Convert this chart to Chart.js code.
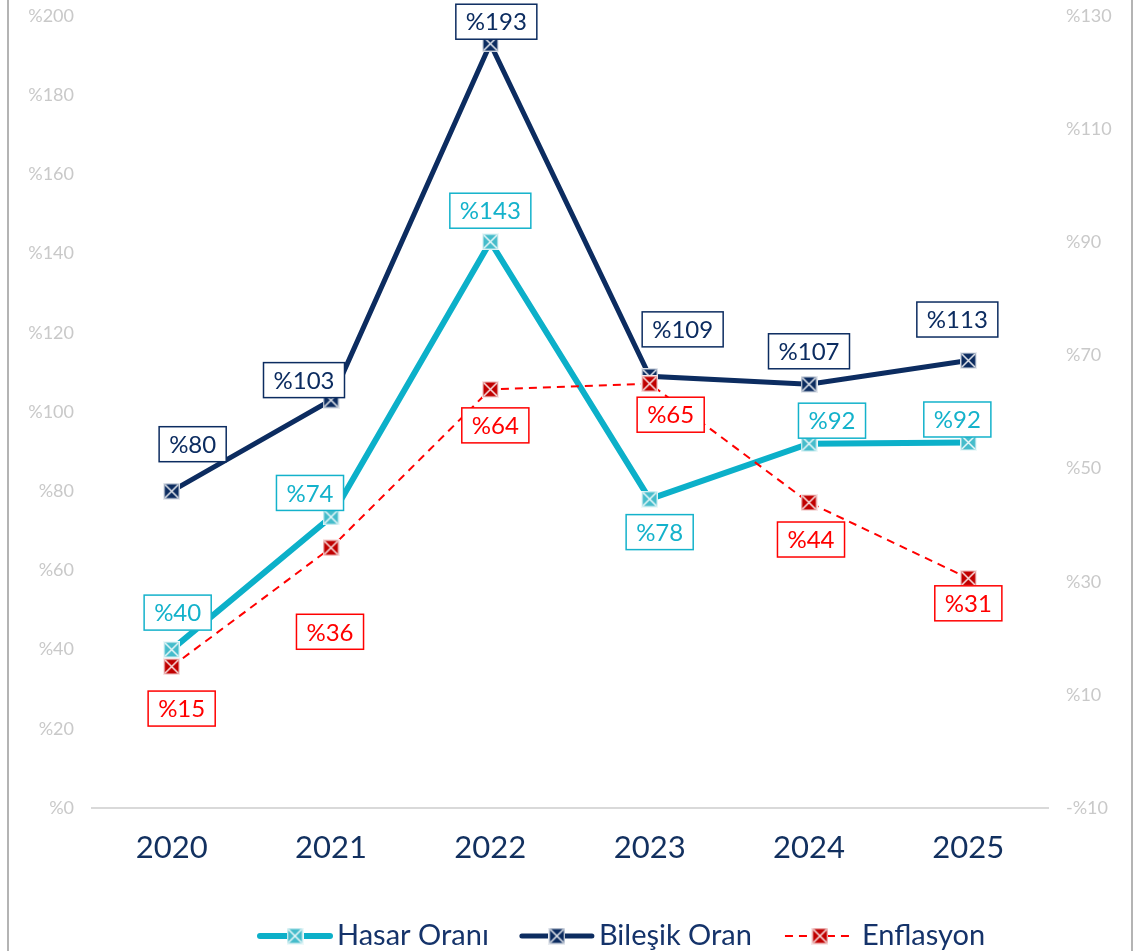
<!DOCTYPE html>
<html>
<head>
<meta charset="utf-8">
<script src="https://cdn.jsdelivr.net/npm/chart.js@4"></script>
<style>
    html, body { margin: 0; padding: 0; background: #fff; }
    #wrap { position: relative; width: 1140px; height: 951px; }
    #frame {
        position: absolute; left: 7px; top: 0; width: 1122px; height: 951px;
        border-left: 2px solid #b4b4b4; border-right: 2px solid #b4b4b4;
        pointer-events: none;
    }
</style>
</head>
<body>
<div id="wrap">
    <canvas id="chart" width="1140" height="951"></canvas>
    <div id="frame"></div>
</div>
<script>
// Chart data
const years = ['2020', '2021', '2022', '2023', '2024', '2025'];
const hasarOrani = [40, 73.5, 143, 78, 92, 92.3];
const bilesikOran = [80, 103, 193, 109, 107, 113];
const enflasyon = [15, 36, 64, 65, 44, 30.6];
const leftTicks = [0, 200, 20];   // min, max, step
const rightTicks = [-10, 130, 20];

// Colours
const cyan = '#0cb0c9';
const navy = '#0c2c60';
const red = '#ff0000';

// Square marker with a white X, like the Excel original
function makeMarker(fill, size) {
    const c = document.createElement('canvas');
    c.width = size;
    c.height = size;
    const ctx = c.getContext('2d');
    ctx.fillStyle = fill;
    ctx.fillRect(0, 0, size, size);
    ctx.strokeStyle = 'rgba(255,255,255,0.9)';
    ctx.lineWidth = 1.5;
    ctx.strokeRect(0.75, 0.75, size - 1.5, size - 1.5);
    ctx.beginPath();
    ctx.moveTo(2, 2); ctx.lineTo(size - 2, size - 2);
    ctx.moveTo(size - 2, 2); ctx.lineTo(2, size - 2);
    ctx.stroke();
    return c;
}

// Per-point label offsets (label centre relative to the point)
const labelOffsets = {
    hasar: [[6, -37], [-21, -24], [0, -31], [10, 33], [23, -23], [-11, -23]],
    bilesik: [[21, -47], [-27, -20], [6, -22], [33, -47], [0, -33], [-11, -41]],
    enflasyon: [[10, 42], [-1, 84], [5, 36], [21, 31], [2, 37], [0, 25]]
};

const boxLabels = {
    id: 'boxLabels',
    afterDatasetsDraw(chart) {
        const ctx = chart.ctx;
        ctx.save();
        ctx.font = '24px Lato';
        ctx.textAlign = 'center';
        ctx.textBaseline = 'middle';
        chart.data.datasets.forEach((ds, i) => {
            const meta = chart.getDatasetMeta(i);
            meta.data.forEach((pt, j) => {
                const [dx, dy] = ds.labelOffsets[j];
                const text = '%' + Math.round(ds.data[j]);
                const w = ctx.measureText(text).width + 20;
                const h = 35;
                const cx = pt.x + dx, cy = pt.y + dy;
                ctx.fillStyle = '#fff';
                ctx.fillRect(cx - w / 2, cy - h / 2, w, h);
                ctx.strokeStyle = ds.labelColor;
                ctx.lineWidth = 1.5;
                ctx.strokeRect(cx - w / 2, cy - h / 2, w, h);
                ctx.fillStyle = ds.labelColor;
                ctx.fillText(text, cx, cy + 1);
            });
        });
        ctx.restore();
    }
};

// Legend with line sample + marker, drawn at the bottom
const lineLegend = {
    id: 'lineLegend',
    afterDraw(chart) {
        const ctx = chart.ctx;
        ctx.save();
        ctx.font = '29px Lato';
        ctx.textBaseline = 'middle';
        let x = 260;
        const y = 936;
        chart.data.datasets.forEach(ds => {
            ctx.strokeStyle = ds.borderColor;
            ctx.lineWidth = ds.borderWidth;
            ctx.setLineDash(ds.borderDash || []);
            ctx.lineCap = ds.borderDash ? 'butt' : 'round';
            ctx.beginPath();
            ctx.moveTo(x, y);
            ctx.lineTo(x + 70, y);
            ctx.stroke();
            ctx.setLineDash([]);
            const m = ds.pointStyle;
            ctx.drawImage(m, x + 35 - m.width / 2, y - m.height / 2);
            ctx.fillStyle = '#15336a';
            ctx.fillText(ds.label, x + 77, y);
            x += 77 + ctx.measureText(ds.label).width + 33;
        });
        ctx.restore();
    }
};

// Let the plot area reach the top tick label's centre
function noVerticalPadding(scale) {
    scale.width = 92;
    scale.paddingTop = 0;
    scale.paddingBottom = 0;
}

// Turkish style percent: %20, -%10
const pct = v => (v < 0 ? '-%' + (-v) : '%' + v);

Chart.defaults.font.family = 'Lato';

new Chart(document.getElementById('chart'), {
    type: 'line',
    data: {
        labels: years,
        datasets: [
            {
                label: 'Hasar Oranı',
                data: hasarOrani,
                yAxisID: 'y',
                borderColor: cyan,
                borderWidth: 6,
                pointStyle: makeMarker('#45bccb', 17),
                labelColor: '#14b2cb',
                labelOffsets: labelOffsets.hasar,
                order: 2
            },
            {
                label: 'Bileşik Oran',
                data: bilesikOran,
                yAxisID: 'y',
                borderColor: navy,
                borderWidth: 5,
                pointStyle: makeMarker(navy, 17),
                labelColor: navy,
                labelOffsets: labelOffsets.bilesik,
                order: 1
            },
            {
                label: 'Enflasyon',
                data: enflasyon,
                yAxisID: 'y2',
                borderColor: red,
                borderWidth: 2,
                borderDash: [8, 6],
                pointStyle: makeMarker('#c00000', 17),
                labelColor: red,
                labelOffsets: labelOffsets.enflasyon,
                order: 0
            }
        ]
    },
    options: {
        responsive: false,
        animation: false,
        layout: { padding: { top: 16, left: 0, right: 0, bottom: 0 } },
        plugins: {
            legend: { display: false },
            tooltip: { enabled: false }
        },
        elements: { line: { tension: 0 } },
        scales: {
            x: {
                offset: true,
                grid: { display: false, drawTicks: false },
                border: { display: true, color: '#d9d9d9', width: 2 },
                ticks: { color: '#12305f', font: { size: 31 }, padding: 21 },
                afterFit(scale) { scale.height = 143; }
            },
            y: {
                position: 'left',
                min: leftTicks[0],
                max: leftTicks[1],
                grid: { display: false, drawTicks: false },
                border: { display: false },
                ticks: {
                    stepSize: leftTicks[2],
                    color: '#c9c9c9',
                    font: { size: 18 },
                    padding: 18,
                    callback: pct
                },
                afterFit: noVerticalPadding
            },
            y2: {
                position: 'right',
                min: rightTicks[0],
                max: rightTicks[1],
                grid: { display: false, drawTicks: false },
                border: { display: false },
                ticks: {
                    stepSize: rightTicks[2],
                    color: '#c9c9c9',
                    font: { size: 18 },
                    padding: 18,
                    callback: pct
                },
                afterFit: noVerticalPadding
            }
        }
    },
    plugins: [boxLabels, lineLegend]
});
</script>
</body>
</html>
